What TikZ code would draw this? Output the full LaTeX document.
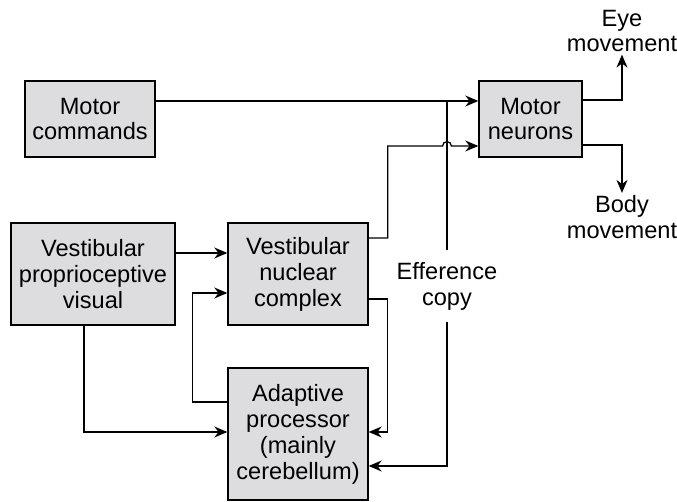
\documentclass[tikz,border=0pt]{standalone}
\usepackage{fontspec}
\setmainfont{Liberation Sans}
\usetikzlibrary{arrows.meta}

\definecolor{boxgray}{RGB}{221,221,223}

\tikzset{
  block/.style={draw, fill=boxgray, line width=0.7pt, align=center,
    font=\fontsize{11.8}{13}\selectfont, inner sep=0pt},
  flow/.style={line width=0.65pt, -{Stealth[length=6.5pt,width=5.5pt]}},
  lbl/.style={align=center, font=\fontsize{11.8}{13}\selectfont, inner sep=1pt}
}

\begin{document}
\begin{tikzpicture}[x=0.5pt, y=-0.5pt]

  \useasboundingbox (0,0) rectangle (677,502);

  % Blocks
  \node[block, minimum width=65pt, minimum height=38pt] (motor) at (90,119) {Motor\\commands};
  \node[block, minimum width=51.5pt, minimum height=38pt] (neurons) at (530.5,119) {Motor\\neurons};
  \node[block, minimum width=82pt, minimum height=51pt] (sensory) at (93,274) {Vestibular\\proprioceptive\\visual};
  \node[block, minimum width=70pt, minimum height=51pt] (nuclear) at (298,274) {Vestibular\\nuclear\\complex};
  \node[block, minimum width=70pt, minimum height=66pt] (adaptive) at (298,434) {Adaptive\\processor\\(mainly\\cerebellum)};

  % Outputs
  \node[lbl] (eye) at (622,31) {Eye\\movement};
  \node[lbl] (body) at (622,217) {Body\\movement};

  % Motor commands and the efference copy
  \coordinate (tap) at (447,101);
  \draw[flow] ([yshift=9pt]motor.east) -- ([yshift=9pt]neurons.west);
  \draw[flow] (tap) |- ([yshift=-16pt]adaptive.east);
  \node[lbl, fill=white, inner ysep=6pt] (efference) at (447,286) {Efference\\copy};

  % Vestibular nuclear complex to motor neurons, hopping over the copy line
  \coordinate (hop) at (447,146);
  \draw[flow] ([yshift=18pt]nuclear.east) -- ++(9.5pt,0) |- ([xshift=-2.2pt]hop)
    arc[start angle=180, end angle=0, radius=2.2pt] -- ([yshift=-13.5pt]neurons.west);

  % Loop through the adaptive processor
  \draw[flow] ([yshift=-12.5pt]nuclear.east) -- ++(9.5pt,0) |- ([yshift=1pt]adaptive.east);
  \draw[flow] ([yshift=16pt]adaptive.west) -- ++(-17.5pt,0) |- ([yshift=-9.5pt]nuclear.west);

  % Sensory inputs
  \draw[flow] ([yshift=10.5pt]sensory.east) -- ([yshift=10.5pt]nuclear.west);
  \draw[flow] ([xshift=-4.5pt]sensory.south) |- ([yshift=1pt]adaptive.west);

  % Motor neurons to movement
  \draw[flow] ([yshift=9.5pt]neurons.east) -| (eye.south);
  \draw[flow] ([yshift=-13pt]neurons.east) -| (body.north);

\end{tikzpicture}
\end{document}
